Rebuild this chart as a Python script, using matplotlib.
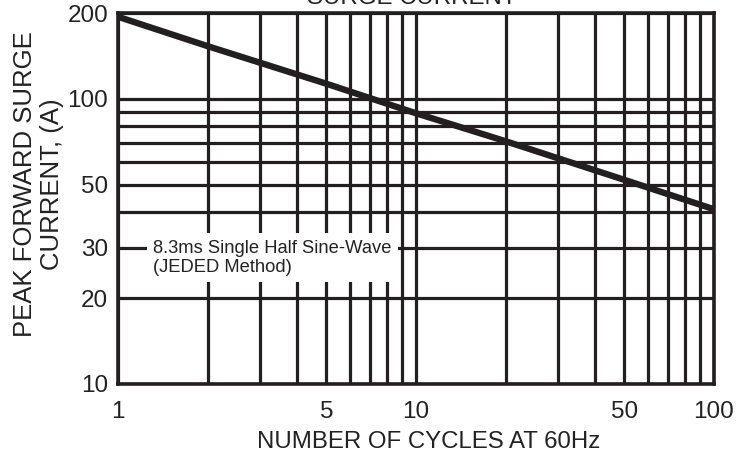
import matplotlib
matplotlib.use("Agg")
import matplotlib.pyplot as plt
from matplotlib.ticker import FixedLocator, NullFormatter, FixedFormatter

plt.rcParams['font.family'] = ['Liberation Sans', 'DejaVu Sans']

# data
cycles = [1, 2, 5, 10, 20, 50, 100]
current = [194, 153, 113, 89, 71, 52, 41]

x_major = [1, 5, 10, 50, 100]
x_major_labels = ['1', '5', '10', '50', '100']
x_minor = [2, 3, 4, 6, 7, 8, 9, 20, 30, 40, 60, 70, 80, 90]
y_major = [10, 20, 30, 50, 100, 200]
y_major_labels = ['10', '20', '30', '50', '100', '200']
y_minor = [40, 60, 70, 80, 90]

ink = '#231f20'
txt = '#222222'

fig = plt.figure(figsize=(7.55, 4.55), dpi=100)
ax = fig.add_axes([118/755, 1 - 384/455, (714-118)/755, (384-13)/455])
ax.set_xscale('log')
ax.set_yscale('log')
ax.set_xlim(1, 100)
ax.set_ylim(10, 200)

ax.xaxis.set_major_locator(FixedLocator(x_major))
ax.xaxis.set_major_formatter(FixedFormatter(x_major_labels))
ax.xaxis.set_minor_locator(FixedLocator(x_minor))
ax.xaxis.set_minor_formatter(NullFormatter())
ax.yaxis.set_major_locator(FixedLocator(y_major))
ax.yaxis.set_major_formatter(FixedFormatter(y_major_labels))
ax.yaxis.set_minor_locator(FixedLocator(y_minor))
ax.yaxis.set_minor_formatter(NullFormatter())

ax.grid(which='both', color=ink, linewidth=2.3)
ax.set_axisbelow(True)
ax.tick_params(which='both', length=0, labelsize=17.5, colors=txt)
ax.tick_params(axis='x', pad=12)
ax.tick_params(axis='y', pad=7)
for s in ax.spines.values():
    s.set_linewidth(2.6)
    s.set_color(ink)

ax.plot(cycles, current, color=ink, linewidth=4.6, solid_capstyle='butt', zorder=5)

ax.text(1.31, 27.7, '8.3ms Single Half Sine-Wave\n(JEDED Method)', fontsize=13.2,
        color=txt, va='center', ha='left', linespacing=1.2, zorder=4,
        bbox=dict(facecolor='white', edgecolor='none', pad=4.5))

ax.set_xlabel('NUMBER OF CYCLES AT 60Hz', fontsize=17.3, color=txt)
ax.xaxis.set_label_coords((429 - 118) / 596, -(442 - 384) / 371)
ax.xaxis.label.set_va('center')
ax.set_ylabel('PEAK FORWARD SURGE\nCURRENT, (A)', fontsize=18.5, color=txt,
              linespacing=1.2)
ax.yaxis.set_label_coords((38.5 - 118) / 596, (384 - 184) / 371)
ax.yaxis.label.set_va('center')
fig.text(0.545, 1 - 4/455, 'SURGE CURRENT', fontsize=17.3, color=txt,
         ha='center', va='baseline')

fig.savefig('out.png', dpi=100)
